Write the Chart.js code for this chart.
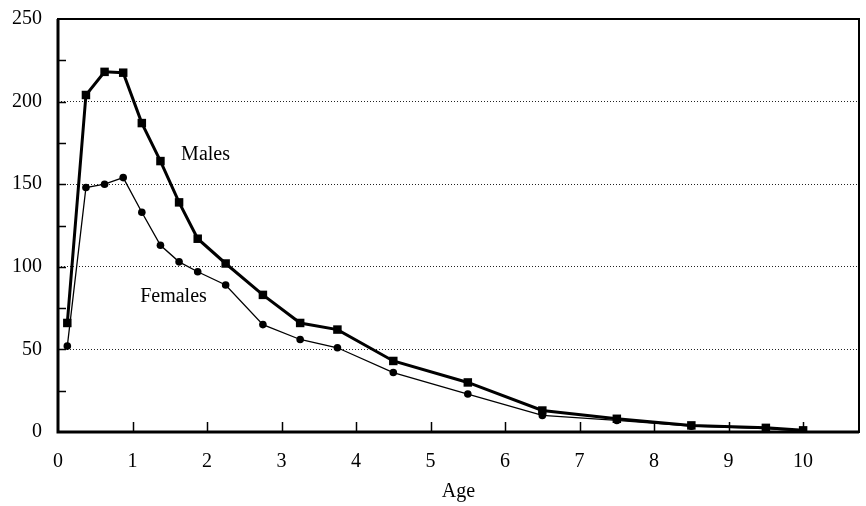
<!DOCTYPE html>
<html>
<head>
<meta charset="utf-8">
<script src="https://cdn.jsdelivr.net/npm/chart.js@4/dist/chart.umd.min.js"></script>
<style>
  html, body { margin: 0; padding: 0; background: #fff; }
  #wrap { width: 866px; height: 506px; }
</style>
</head>
<body>
<div id="wrap"><canvas id="chart"></canvas></div>
<script>
const ages = [0.125, 0.375, 0.625, 0.875, 1.125, 1.375, 1.625, 1.875, 2.25, 2.75, 3.25, 3.75, 4.5, 5.5, 6.5, 7.5, 8.5, 9.5, 10];
const males = [66, 204, 218, 217.5, 187, 164, 139, 117, 102, 83, 66, 62, 43, 30, 13, 8, 4, 2.5, 1];
const females = [52, 148, 150, 154, 133, 113, 103, 97, 89, 65, 56, 51, 36, 23, 10, 7, 3.5, 2, 0.5];
const xTicks = [0, 1, 2, 3, 4, 5, 6, 7, 8, 9, 10];
const yTicks = [0, 50, 100, 150, 200, 250];
const yMinorTicks = [25, 75, 125, 175, 225];
const seriesLabels = [
    { text: 'Males', x: 1.98, y: 168 },
    { text: 'Females', x: 1.55, y: 82 }
];

const font = "'Liberation Serif', 'Times New Roman', serif";

// frame, inward ticks and the two series labels
const framePlugin = {
    id: 'frame',
    afterDraw(chart) {
        const ctx = chart.ctx;
        const a = chart.chartArea;
        const xs = chart.scales.x;
        const ys = chart.scales.y;
        ctx.save();
        ctx.strokeStyle = '#000';
        ctx.lineWidth = 2;
        ctx.strokeRect(a.left, a.top, a.right - a.left, a.bottom - a.top);
        ctx.lineWidth = 3;
        ctx.beginPath();
        ctx.moveTo(a.left, a.top);
        ctx.lineTo(a.left, a.bottom);
        ctx.lineTo(a.right, a.bottom);
        ctx.stroke();

        ctx.lineWidth = 1.5;
        ctx.beginPath();
        xTicks.forEach(v => {
            if (v === 0) return;
            const px = Math.round(xs.getPixelForValue(v)) + 0.5;
            ctx.moveTo(px, a.bottom);
            ctx.lineTo(px, a.bottom - 10);
        });
        yTicks.concat(yMinorTicks).forEach(v => {
            if (v === 0 || v === 250) return;
            const py = Math.round(ys.getPixelForValue(v)) + 0.5;
            ctx.moveTo(a.left, py);
            ctx.lineTo(a.left + 8, py);
        });
        ctx.stroke();

        ctx.fillStyle = '#000';
        ctx.font = '20px ' + font;
        ctx.textAlign = 'center';
        ctx.textBaseline = 'middle';
        seriesLabels.forEach(l => {
            ctx.fillText(l.text, xs.getPixelForValue(l.x), ys.getPixelForValue(l.y));
        });
        ctx.restore();
    }
};

new Chart(document.getElementById('chart'), {
    type: 'line',
    data: {
        datasets: [{
            label: 'Males',
            data: ages.map((a, i) => ({ x: a, y: males[i] })),
            borderColor: '#000',
            backgroundColor: '#000',
            borderWidth: 3,
            pointStyle: 'rect',
            pointRadius: 6,
            pointBorderWidth: 0,
            tension: 0
        }, {
            label: 'Females',
            data: ages.map((a, i) => ({ x: a, y: females[i] })),
            borderColor: '#000',
            backgroundColor: '#000',
            borderWidth: 1.3,
            pointStyle: 'circle',
            pointRadius: 3.8,
            pointBorderWidth: 0,
            tension: 0
        }]
    },
    options: {
        responsive: true,
        maintainAspectRatio: false,
        animation: false,
        layout: { padding: { top: 19, right: 7, left: 0, bottom: 0 } },
        plugins: {
            legend: { display: false },
            tooltip: { enabled: false }
        },
        scales: {
            x: {
                type: 'linear',
                min: 0,
                max: 10.75,
                afterBuildTicks: s => { s.ticks = xTicks.map(v => ({ value: v })); },
                afterFit: s => { s.height = 74; s.paddingLeft = 0; s.paddingRight = 0; },
                grid: { display: false, drawTicks: false },
                border: { display: false },
                ticks: { color: '#000', font: { family: font, size: 20 }, padding: 18, maxRotation: 0 },
                title: { display: true, text: 'Age', color: '#000', font: { family: font, size: 20 }, padding: { top: 0, bottom: 2 } }
            },
            y: {
                min: 0,
                max: 250,
                afterBuildTicks: s => { s.ticks = yTicks.map(v => ({ value: v })); },
                afterFit: s => { s.width = 58; s.paddingTop = 0; s.paddingBottom = 0; },
                grid: {
                    drawTicks: false,
                    lineWidth: 1,
                    color: c => (c.tick && (c.tick.value === 0 || c.tick.value === 250)) ? 'rgba(0,0,0,0)' : '#222'
                },
                border: { display: false, dash: [1, 2] },
                ticks: { color: '#000', font: { family: font, size: 20 }, padding: 16 }
            }
        }
    },
    plugins: [framePlugin]
});
</script>
</body>
</html>
